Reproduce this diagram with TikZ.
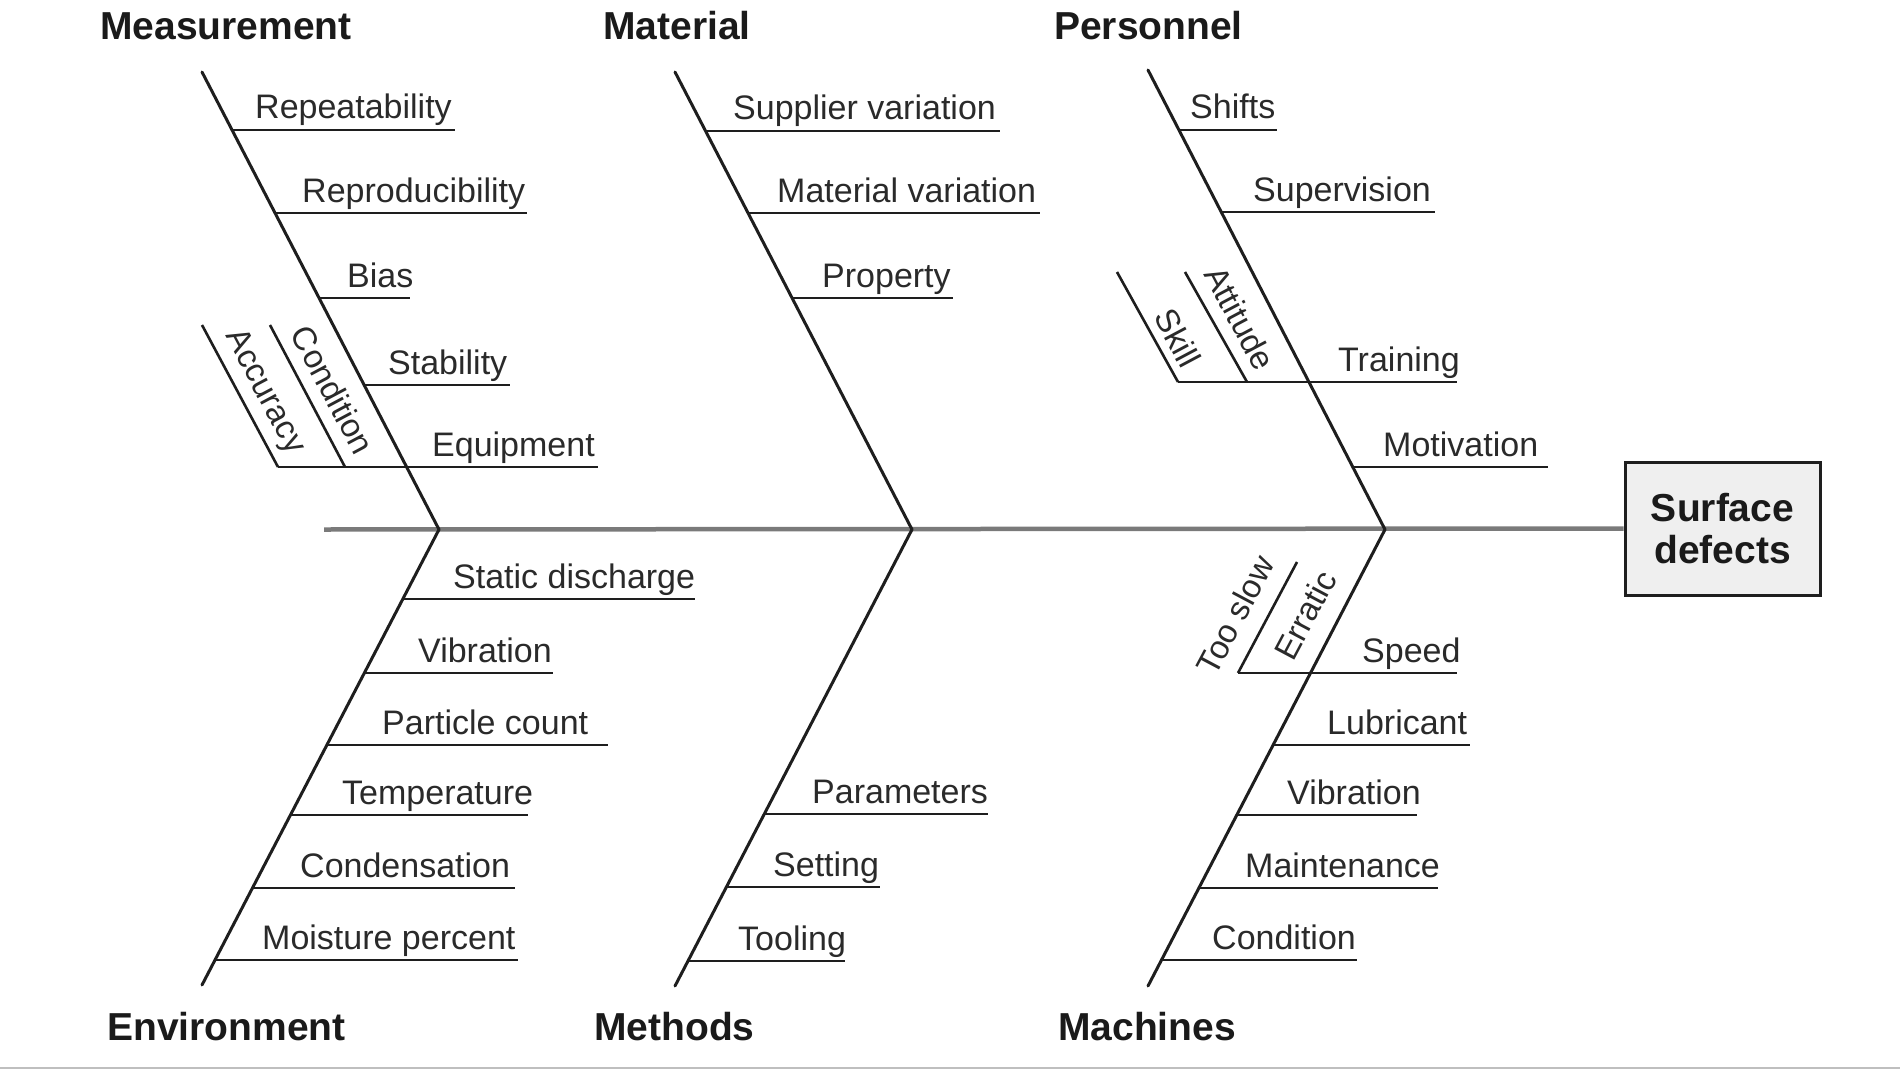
\documentclass[tikz,border=0pt]{standalone}
\usepackage{fontspec}
\setmainfont{Liberation Sans}
\definecolor{linec}{HTML}{1E1E1E}
\definecolor{txtc}{HTML}{2A2A2A}
\definecolor{catc}{HTML}{1A1A1A}
\definecolor{spinec}{HTML}{7A7A7A}
\definecolor{boxfill}{HTML}{EFEFEF}
\newcommand\fbtwig[6]{%
  \coordinate (#1s) at (#2,#4);
  \coordinate (#1e) at (#3,#4);
  \draw[twig] (#1s) -- (#1e);
  \node[lbl] (#1) at (#5,#4-11) {#6};}
\begin{document}
\begin{tikzpicture}[x=1pt,y=-1pt,
  bone/.style={line width=3pt,draw=linec,line cap=round},
  twig/.style={line width=2.6pt,draw=linec},
  spine/.style={line width=4.5pt,draw=spinec},
  lbl/.style={anchor=base west,inner sep=0pt,text=txtc,font=\fontsize{34}{40}\selectfont},
  rlbl/.style={inner sep=0pt,text=txtc,font=\fontsize{33}{38}\selectfont},
  cat/.style={anchor=base west,inner sep=0pt,text=catc,font=\fontsize{39}{44}\selectfont\bfseries}]
\fill[white] (0,0) rectangle (1900,1070);
\useasboundingbox (0,0) rectangle (1900,1070);
\draw[black!25,line width=2pt] (0,1068) -- (1900,1068);

% effect box and spine
\node[draw=linec,line width=3pt,fill=boxfill,minimum width=195pt,minimum height=133pt,
  inner sep=0pt,align=center,text=catc,font=\fontsize{39}{42}\selectfont\bfseries]
  (effect) at (1722.5,528.5) {Surface\\defects};
\coordinate (tail) at (324,529.5);
\draw[spine] (tail) -- (effect.west);

% joints and bone ends
\coordinate (j1) at (439,529.5);
\coordinate (j2) at (912,529.5);
\coordinate (j3) at (1385,529.5);
\coordinate (mt) at (202,72);
\coordinate (mat) at (675,72);
\coordinate (pt) at (1148,70);
\coordinate (eb) at (202,985);
\coordinate (meb) at (675,986);
\coordinate (mab) at (1148,986);
\draw[bone] (mt) -- (j1);
\draw[bone] (mat) -- (j2);
\draw[bone] (pt) -- (j3);
\draw[bone] (j1) -- (eb);
\draw[bone] (j2) -- (meb);
\draw[bone] (j3) -- (mab);

% category labels
\node[cat] (cmeas) at (100,40) {Measurement};
\node[cat] (cmat) at (603,40) {Material};
\node[cat] (cpers) at (1054,40) {Personnel};
\node[cat] (cenv) at (107,1040) {Environment};
\node[cat] (cmeth) at (594,1040) {Methods};
\node[cat] (cmach) at (1058,1040) {Machines};

% Measurement
\fbtwig{rep}{232}{455}{130}{255}{Repeatability}
\fbtwig{repr}{275}{527}{213}{302}{Reproducibility}
\fbtwig{bias}{319}{410}{298}{347}{Bias}
\fbtwig{stab}{364}{510}{385}{388}{Stability}
\fbtwig{equip}{278}{598}{467}{432}{Equipment}
\coordinate (accT) at (202,325);
\coordinate (conT) at (270,325);
\coordinate (conB) at (345,467);
\draw[twig] (accT) -- (equips);
\draw[twig] (conT) -- (conB);
\node[rlbl,rotate=-62] (acc) at (264,392) {Accuracy};
\node[rlbl,rotate=-62] (con) at (333,390) {Condition};

% Material
\fbtwig{sup}{706}{1000}{131}{733}{Supplier variation}
\fbtwig{matv}{749}{1040}{213}{777}{Material variation}
\fbtwig{prop}{793}{953}{298}{822}{Property}

% Personnel
\fbtwig{shifts}{1179}{1277}{130}{1190}{Shifts}
\fbtwig{superv}{1221}{1435}{212}{1253}{Supervision}
\fbtwig{train}{1178}{1457}{382}{1338}{Training}
\fbtwig{motiv}{1353}{1548}{467}{1383}{Motivation}
\coordinate (skT) at (1117,272);
\coordinate (atT) at (1185,272);
\coordinate (atB) at (1247,382);
\draw[twig] (skT) -- (trains);
\draw[twig] (atT) -- (atB);
\node[rlbl,rotate=-62] (skill) at (1178,338) {Skill};
\node[rlbl,rotate=-62] (att) at (1240,318) {Attitude};

% Environment
\fbtwig{static}{403}{695}{599}{453}{Static discharge}
\fbtwig{vibA}{364}{553}{673}{418}{Vibration}
\fbtwig{part}{327}{608}{745}{382}{Particle count}
\fbtwig{temp}{290}{528}{815}{342}{Temperature}
\fbtwig{cond}{252}{515}{888}{300}{Condensation}
\fbtwig{moist}{215}{518}{960}{262}{Moisture percent}

% Methods
\fbtwig{param}{765}{988}{814}{812}{Parameters}
\fbtwig{sett}{727}{880}{887}{773}{Setting}
\fbtwig{tool}{689}{845}{961}{738}{Tooling}

% Machines
\fbtwig{speed}{1238}{1457}{673}{1362}{Speed}
\fbtwig{lub}{1273}{1470}{745}{1327}{Lubricant}
\fbtwig{vibB}{1237}{1417}{815}{1287}{Vibration}
\fbtwig{maint}{1199}{1438}{888}{1245}{Maintenance}
\fbtwig{condm}{1161}{1357}{960}{1212}{Condition}
\coordinate (tsT) at (1297,562);
\draw[twig] (speeds) -- (tsT);
\node[rlbl,rotate=62] (tooslow) at (1235,615) {Too slow};
\node[rlbl,rotate=62] (erratic) at (1305,615) {Erratic};
\end{tikzpicture}
\end{document}
